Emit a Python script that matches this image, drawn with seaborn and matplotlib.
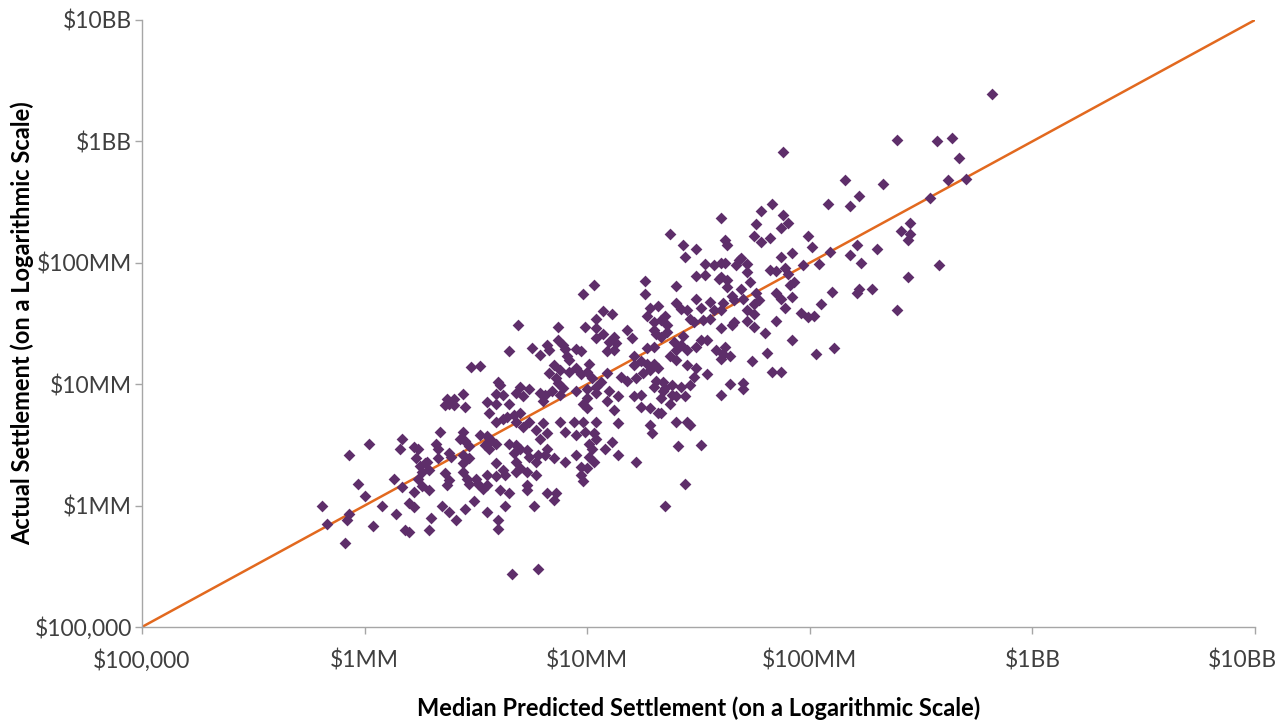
import numpy as np
import pandas as pd
import seaborn as sns
import matplotlib
matplotlib.use("Agg")
import matplotlib.pyplot as plt
from matplotlib.transforms import ScaledTranslation

sns.set_style("white")
plt.rcParams['font.family'] = ['Lato', 'DejaVu Sans']

# log10 of the settlement amounts ($)
predicted_log10 = [
    8.82, 8.39, 8.57, 8.64, 8.67, 7.88, 8.16, 8.33, 8.62, 8.70,
    8.54, 8.22, 8.08, 8.18, 7.83, 7.78, 7.60, 7.88, 7.76, 7.90,
    7.87, 8.45, 8.41, 8.45, 8.44, 7.37, 7.43, 7.49, 7.62, 7.63,
    7.75, 7.78, 7.82, 7.99, 8.01, 7.92, 7.87, 8.09, 8.21, 8.18,
    8.30, 7.44, 7.69, 8.23, 8.58, 8.44, 8.22, 8.21, 8.28, 8.39,
    7.62, 7.60, 7.68, 7.67, 7.72, 7.72, 7.82, 7.85, 7.89, 7.90,
    7.97, 8.04, 7.73, 7.93, 7.91, 7.60, 7.63, 7.63, 7.69, 7.65,
    7.66, 7.70, 7.76, 7.77, 7.75, 7.85, 7.87, 7.92, 8.10, 8.05,
    7.89, 7.96, 7.99, 8.02, 7.72, 7.75, 7.60, 7.61, 7.66, 7.65,
    7.72, 7.85, 7.75, 7.60, 7.80, 7.92, 8.11, 8.03, 7.81, 7.62,
    7.61, 7.64, 7.60, 7.74, 7.83, 7.87, 7.64, 7.70, 7.70, 7.60,
    7.34, 7.33, 7.40, 7.44, 7.37, 7.33, 7.40, 7.45, 7.46, 7.41,
    7.51, 7.44, 7.35,
    7.53, 7.57, 7.49, 7.53, 7.59, 7.26, 7.40, 7.26, 7.40, 7.49,
    7.51, 7.55, 7.57, 7.55, 7.45, 7.42, 7.07, 7.11, 7.28, 7.32,
    7.27, 7.30, 7.33, 7.35, 7.36, 7.36, 7.33, 7.31, 7.30, 7.46,
    7.48, 7.52, 7.18, 7.07, 7.12, 7.10, 7.13, 7.12, 7.09, 7.20,
    7.43, 7.39, 7.42, 7.40, 7.45, 7.49, 7.51, 7.54, 7.58, 7.30,
    7.27, 7.21, 7.24, 7.27, 7.28, 7.30, 7.32, 7.25, 7.21, 7.37,
    7.40, 7.45, 7.49, 7.48, 7.46, 7.54, 7.15, 7.09, 7.06, 7.22,
    7.18, 7.31, 7.34, 7.30, 7.35, 7.38, 7.42, 7.38, 7.10, 7.14,
    7.21, 7.24,
    7.03, 6.98, 6.69, 6.87, 6.99, 7.04, 7.04, 7.04, 6.87, 6.89,
    6.90, 6.65, 6.75, 6.82, 6.79, 6.83, 6.95, 6.97, 6.91, 6.92,
    6.48, 6.52, 6.85, 6.88, 6.83, 6.86, 6.87, 6.89, 6.84, 6.88,
    6.92, 6.95, 6.97, 7.00, 7.01, 7.02, 7.04, 7.00, 7.04, 7.00,
    6.60, 6.61, 6.44, 6.59, 6.62, 6.70, 6.74, 6.68, 6.71, 6.81,
    6.37, 6.40, 6.79, 6.95,
    6.98, 7.00, 7.09, 7.12, 7.24, 7.28, 7.32, 6.88, 6.94, 6.98,
    7.04, 7.14, 6.80, 7.28, 7.29, 6.82, 6.90, 6.95, 6.99, 7.03,
    7.04, 7.01, 6.79, 7.11, 7.08, 7.14, 6.82, 6.81, 6.85, 7.02,
    7.01, 6.95, 6.90, 7.22, 6.97, 7.03, 7.00, 6.97, 6.98, 6.82,
    6.86, 6.85,
    6.38, 6.36, 6.40, 6.45, 6.55, 6.59, 6.65, 6.80, 6.56, 6.59,
    6.62, 6.64, 6.67, 6.70, 6.68, 6.71, 6.74, 6.77, 6.34, 6.44,
    6.43, 6.45, 6.47, 6.52, 6.55, 6.57, 6.54, 6.56, 6.59, 6.32,
    6.33, 6.65, 6.68, 6.70, 6.67, 6.73, 6.74, 6.78, 6.77, 6.38,
    6.39, 6.33, 6.44, 6.47, 6.44, 6.25, 6.28, 6.29, 6.26, 6.36,
    6.38, 6.37, 6.44, 6.46, 6.47, 6.50, 6.51, 6.53, 6.55, 6.55,
    6.59, 6.62, 6.63, 6.59, 6.68, 6.70, 6.68, 6.73, 6.77, 6.73,
    6.73, 6.26, 6.29, 6.65, 6.61,
    6.02, 5.93, 6.17, 6.16, 6.22, 6.24, 6.23, 6.27, 5.97, 6.13,
    6.24, 6.17, 6.22, 6.00,
    5.81, 6.08, 5.93, 5.92, 5.83, 6.04, 5.91, 6.14, 6.18, 6.20,
    6.20, 6.22, 6.30, 6.29, 6.35, 6.38, 6.41, 6.45, 6.49, 6.55,
    6.63, 6.60, 6.60, 6.76, 6.66, 6.78,
]
actual_log10 = [
    9.39, 9.01, 9.00, 9.03, 8.86, 8.91, 8.68, 8.65, 8.68, 8.69,
    8.53, 8.55, 8.48, 8.47, 8.48, 8.43, 8.37, 8.39, 8.32, 8.33,
    8.29, 8.33, 8.26, 8.24, 8.19, 8.24, 8.15, 8.11, 8.19, 8.15,
    8.22, 8.17, 8.20, 8.22, 8.13, 8.08, 8.05, 8.09, 8.15, 8.06,
    8.11, 8.05, 8.04, 8.00, 7.98, 7.88, 7.78, 7.75, 7.78, 7.61,
    8.00, 8.00, 8.02, 7.98, 7.99, 7.92, 7.94, 7.93, 7.96, 7.91,
    7.98, 7.99, 7.84, 7.84, 7.82, 7.88, 7.86, 7.80, 7.78, 7.73,
    7.69, 7.70, 7.75, 7.69, 7.66, 7.75, 7.70, 7.72, 7.76, 7.66,
    7.63, 7.59, 7.55, 7.56, 7.61, 7.58, 7.61, 7.67, 7.51, 7.49,
    7.52, 7.52, 7.47, 7.46, 7.42, 7.36, 7.30, 7.25, 7.26, 7.31,
    7.25, 7.23, 7.21, 7.19, 7.10, 7.10, 7.00, 7.01, 6.96, 6.91,
    6.94, 6.89, 6.90, 6.90, 6.84, 6.76, 6.69, 6.69, 6.66, 6.49,
    6.50, 6.18, 6.00,
    7.99, 7.98, 7.89, 7.90, 7.87, 7.85, 7.81, 7.74, 7.67, 7.70,
    7.63, 7.68, 7.61, 7.54, 7.61, 7.62, 7.60, 7.58, 7.63, 7.64,
    7.56, 7.51, 7.53, 7.56, 7.49, 7.43, 7.39, 7.41, 7.45, 7.54,
    7.51, 7.53, 7.45, 7.41, 7.39, 7.35, 7.34, 7.28, 7.27, 7.38,
    7.40, 7.35, 7.32, 7.28, 7.28, 7.31, 7.36, 7.36, 7.28, 7.31,
    7.30, 7.23, 7.19, 7.17, 7.12, 7.17, 7.13, 7.09, 7.16, 7.23,
    7.20, 7.16, 7.13, 7.06, 6.99, 7.08, 7.06, 7.09, 7.02, 7.05,
    7.03, 7.03, 7.02, 6.98, 6.97, 6.99, 6.98, 6.91, 6.94, 6.90,
    6.90, 6.91,
    7.82, 7.74, 7.49, 7.47, 7.47, 7.54, 7.46, 7.38, 7.36, 7.32,
    7.29, 7.27, 7.30, 7.32, 7.24, 7.28, 7.29, 7.27, 7.23, 7.20,
    7.14, 7.15, 7.16, 7.12, 7.09, 7.05, 7.01, 6.97, 6.94, 6.91,
    7.10, 7.13, 7.08, 7.10, 7.17, 7.05, 6.98, 6.96, 6.93, 6.89,
    7.02, 6.99, 6.92, 6.92, 6.91, 6.98, 6.96, 6.93, 6.90, 6.91,
    6.88, 6.88, 6.93, 6.94,
    6.84, 6.80, 6.86, 6.79, 6.81, 6.80, 6.76, 6.69, 6.69, 6.69,
    6.69, 6.68, 6.68, 6.66, 6.60, 6.60, 6.61, 6.58, 6.61, 6.60,
    6.55, 6.51, 6.55, 6.52, 6.47, 6.42, 6.47, 6.42, 6.39, 6.47,
    6.40, 6.42, 6.36, 6.36, 6.32, 6.36, 6.31, 6.25, 6.20, 6.10,
    6.10, 6.05,
    6.84, 6.83, 6.83, 6.81, 6.85, 6.84, 6.84, 6.86, 6.76, 6.69,
    6.71, 6.73, 6.75, 6.76, 6.69, 6.65, 6.69, 6.62, 6.61, 6.61,
    6.55, 6.53, 6.49, 6.58, 6.57, 6.54, 6.50, 6.47, 6.51, 6.51,
    6.47, 6.51, 6.50, 6.47, 6.43, 6.46, 6.40, 6.42, 6.36, 6.43,
    6.40, 6.39, 6.42, 6.39, 6.35, 6.33, 6.36, 6.29, 6.28, 6.27,
    6.21, 6.17, 6.28, 6.22, 6.18, 6.22, 6.18, 6.14, 6.25, 6.17,
    6.35, 6.29, 6.25, 6.24, 6.36, 6.31, 6.28, 6.28, 6.25, 6.17,
    6.13, 6.16, 6.13, 6.10, 6.13,
    6.51, 6.42, 6.55, 6.47, 6.48, 6.47, 6.39, 6.35, 6.18, 6.22,
    6.22, 6.15, 6.11, 6.08,
    6.00, 6.00, 5.93, 5.88, 5.85, 5.83, 5.69, 5.93, 5.80, 5.78,
    6.02, 5.99, 5.90, 5.80, 6.00, 5.95, 5.88, 5.97, 6.04, 5.95,
    6.00, 5.88, 5.81, 6.00, 5.44, 5.48,
]

tick_values = [1e5, 1e6, 1e7, 1e8, 1e9, 1e10]
tick_labels = ["$100,000", "$1MM", "$10MM", "$100MM", "$1BB", "$10BB"]
diagonal = [tick_values[0], tick_values[-1]]

df = pd.DataFrame({
    "predicted": 10 ** np.array(predicted_log10),
    "actual": 10 ** np.array(actual_log10),
})

fig = plt.figure(figsize=(12.86, 7.23), dpi=100)
ax = fig.add_axes([0.1104, 0.1328, 0.8655, 0.8396])
ax.set_xscale("log")
ax.set_yscale("log")

sns.lineplot(x=diagonal, y=diagonal, color="#E2691F", linewidth=1.8, ax=ax, zorder=2)
sns.scatterplot(data=df, x="predicted", y="actual", marker="D", s=36,
                color="#5E2E6A", linewidth=0, ax=ax, zorder=3)

ax.set_xlim(tick_values[0], tick_values[-1])
ax.set_ylim(tick_values[0], tick_values[-1])
ax.set_xticks(tick_values)
ax.set_xticklabels(tick_labels)
ax.set_yticks(tick_values)
ax.set_yticklabels(tick_labels)
ax.minorticks_off()

sns.despine(ax=ax)
for side in ["left", "bottom"]:
    ax.spines[side].set_color("#A6A6A6")
    ax.spines[side].set_linewidth(1.0)
ax.tick_params(axis="both", which="major", bottom=True, left=True, direction="out",
               length=5, width=1, color="#A6A6A6", labelcolor="#3F3F3F", labelsize=16.5)
ax.tick_params(axis="x", pad=11)
ax.tick_params(axis="y", pad=2)

# last x label sits a little left of its tick so it stays inside the figure
last = ax.get_xticklabels()[-1]
last.set_transform(last.get_transform() + ScaledTranslation(-0.13, 0, fig.dpi_scale_trans))

ax.set_xlabel("Median Predicted Settlement (on a Logarithmic Scale)",
              fontsize=17, fontweight="bold", color="black")
ax.set_ylabel("Actual Settlement (on a Logarithmic Scale)",
              fontsize=17, fontweight="bold", color="black")
ax.xaxis.set_label_coords(0.5, -0.115)
ax.yaxis.set_label_coords(-0.097, 0.5)

fig.savefig("out.png", dpi=100)
